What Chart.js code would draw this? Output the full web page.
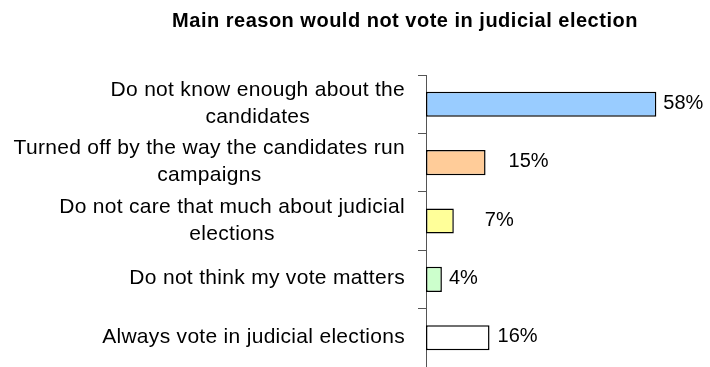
<!DOCTYPE html>
<html>
<head>
<meta charset="utf-8">
<script src="https://cdn.jsdelivr.net/npm/chart.js@4"></script>
<style>
  html, body { margin: 0; padding: 0; background: #fff; }
  canvas { display: block; }
</style>
</head>
<body>
<canvas id="chart" width="710" height="367"></canvas>
<script>
const chartTitle = "Main reason would not vote in judicial election";
const reasons = [
  ["Do not know enough about the", "candidates"],
  ["Turned off by the way the candidates run", "campaigns"],
  ["Do not care that much about judicial", "elections"],
  ["Do not think my vote matters"],
  ["Always vote in judicial elections"]
];
const percents = [58, 15, 7, 4, 16];
const barColors = ["#99ccff", "#ffcc99", "#ffff99", "#ccffcc", "#ffffff"];

// label gaps to the right of each bar (the original has them nudged by hand)
const labelGaps = [7, 23, 31, 7, 8];
const FONT = "'Liberation Sans', Arial, sans-serif";

// draws title, wrapped category labels (centred lines, right aligned block) and value labels
const textPlugin = {
  id: "textPlugin",
  afterDraw(chart) {
    const ctx = chart.ctx;
    const y = chart.scales.y;
    const x = chart.scales.x;
    ctx.save();
    ctx.fillStyle = "#000";

    ctx.font = "bold 20px " + FONT;
    ctx.letterSpacing = "0.5px";
    ctx.textAlign = "center";
    ctx.textBaseline = "alphabetic";
    ctx.fillText(chartTitle, 405, 27);

    ctx.font = "21px " + FONT;
    ctx.letterSpacing = "0.3px";
    const rightEdge = 405;
    const lineH = 27;
    reasons.forEach((lines, i) => {
      const cy = y.getPixelForValue(i);
      const widest = Math.max(...lines.map(l => ctx.measureText(l).width));
      const cx = rightEdge - widest / 2;
      lines.forEach((line, j) => {
        const by = cy + 5 + (j - (lines.length - 1) / 2) * lineH;
        ctx.fillText(line, cx, by);
      });
    });

    ctx.font = "20px " + FONT;
    ctx.letterSpacing = "0px";
    ctx.textAlign = "left";
    ctx.textBaseline = "middle";
    percents.forEach((v, i) => {
      const px = x.getPixelForValue(v) + labelGaps[i];
      const py = y.getPixelForValue(i) - 1;
      ctx.fillText(v + "%", px, py);
    });
    ctx.restore();
  }
};

new Chart(document.getElementById("chart"), {
  type: "bar",
  data: {
    labels: reasons.map(r => r.join(" ")),
    datasets: [{
      data: percents,
      backgroundColor: barColors,
      borderColor: "#000",
      borderWidth: 1.5,
      borderSkipped: false,
      categoryPercentage: 1,
      barPercentage: 0.43
    }]
  },
  options: {
    indexAxis: "y",
    responsive: false,
    animation: false,
    layout: { padding: { top: 75, bottom: -1, right: 6, left: 0 } },
    plugins: {
      legend: { display: false },
      title: { display: false },
      tooltip: { enabled: false }
    },
    scales: {
      x: { display: false, min: 0, max: 70 },
      y: {
        afterFit: scale => { scale.width = 426; },
        ticks: { display: false },
        grid: {
          drawOnChartArea: false,
          drawTicks: true,
          tickLength: 8,
          color: "#555"
        },
        border: { display: true, color: "#555", width: 1 }
      }
    }
  },
  plugins: [textPlugin]
});
</script>
</body>
</html>
